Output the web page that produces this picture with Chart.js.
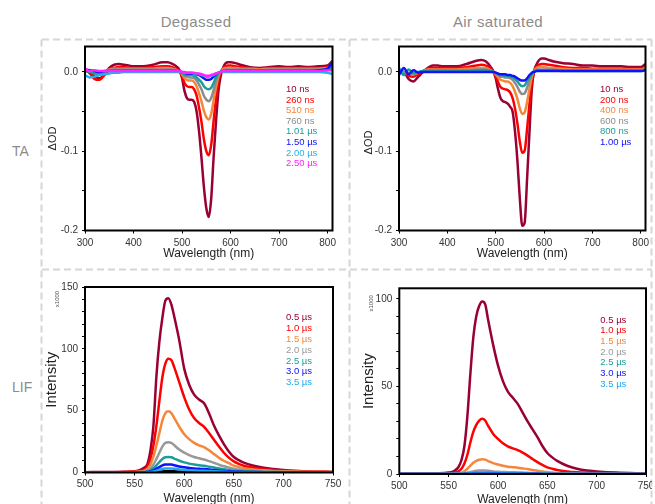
<!DOCTYPE html>
<html>
<head>
<meta charset="utf-8">
<script src="https://cdn.jsdelivr.net/npm/chart.js@4.4.1/dist/chart.umd.min.js"></script>
<style>
  body { margin: 0; width: 655px; height: 504px; overflow: hidden; background: #fff; position: relative;
         font-family: "Liberation Sans", Arial, sans-serif; }
  .panel { position: absolute; }
  .lbl { position: absolute; color: #8c8c8c; white-space: nowrap; }
</style>
</head>
<body>
<svg width="655" height="504" style="position:absolute;left:0;top:0">
  <g stroke="#d6d6d6" stroke-width="2" stroke-dasharray="7 4" fill="none">
    <line x1="42" y1="39.5" x2="652" y2="39.5"/>
    <line x1="42" y1="269.5" x2="652" y2="269.5"/>
    <line x1="41.5" y1="39.5" x2="41.5" y2="504"/>
    <line x1="349.5" y1="39.5" x2="349.5" y2="504"/>
    <line x1="651.5" y1="39.5" x2="651.5" y2="504"/>
  </g>
</svg>
<div class="lbl" style="left:146px;top:13px;width:100px;text-align:center;font-size:15px;letter-spacing:0.4px">Degassed</div>
<div class="lbl" style="left:438px;top:13px;width:120px;text-align:center;font-size:15px;letter-spacing:0.4px">Air saturated</div>
<div class="lbl" style="left:12px;top:143px;font-size:14px">TA</div>
<div class="lbl" style="left:12px;top:379px;font-size:14px">LIF</div>

<div class="panel" style="left:42px;top:40px"><canvas id="taDeg" width="308" height="230"></canvas></div>
<div class="panel" style="left:350px;top:40px"><canvas id="taAir" width="302" height="230"></canvas></div>
<div class="panel" style="left:42px;top:270px"><canvas id="lifDeg" width="308" height="234"></canvas></div>
<div class="panel" style="left:350px;top:270px"><canvas id="lifAir" width="302" height="234"></canvas></div>

<script>
/* ====== DATA ====== */
// transient absorption, wavelength grid (nm)
const taWl = [300,310,320,330,340,350,360,370,380,390,
  400,420,440,460,470,480,490,
  495,500,505,510,515,520,525,530,535,540,545,550,555,560,565,570,575,580,585,590,595,600,
  610,620,640,660,680,700,720,740,760,780,800,810];

const taXTicks = [300, 400, 500, 600, 700, 800];
const taYTicks = [-0.2, -0.15, -0.1, -0.05, 0];

const taDegLabels = ['10 ns', '260 ns', '510 ns', '760 ns', '1.01 µs', '1.50 µs', '2.00 µs', '2.50 µs'];
const taDegColors = ['#990033', '#ff0000', '#f5873a', '#8c8c8c', '#1a9e9a', '#1010ff', '#22b0f0', '#ff22ff'];

const taDeg10 = [0.004,0.000,-0.006,-0.008,-0.003,0.005,0.009,0.010,0.009,0.008,
  0.007,0.007,0.009,0.012,0.012,0.010,0.006,
  0.002,-0.008,-0.024,-0.033,-0.035,-0.035,-0.038,-0.050,-0.075,-0.108,-0.145,-0.172,-0.183,-0.160,-0.108,-0.062,-0.024,-0.004,0.006,0.011,0.012,0.012,
  0.011,0.009,0.006,0.005,0.006,0.007,0.006,0.007,0.006,0.007,0.008,0.014];
const taDeg260 = [0.002,-0.002,-0.009,-0.010,-0.004,0.003,0.005,0.006,0.006,0.005,
  0.005,0.005,0.006,0.007,0.007,0.006,0.003,
  0.000,-0.006,-0.014,-0.018,-0.019,-0.019,-0.022,-0.030,-0.045,-0.063,-0.085,-0.100,-0.105,-0.092,-0.062,-0.034,-0.012,0.000,0.005,0.007,0.008,0.008,
  0.007,0.006,0.005,0.004,0.005,0.005,0.005,0.005,0.005,0.005,0.006,0.008];
const taDeg510 = [0.003,0.001,-0.002,-0.003,0.000,0.003,0.004,0.004,0.004,0.004,
  0.004,0.004,0.004,0.005,0.005,0.004,0.002,
  0.000,-0.003,-0.008,-0.010,-0.011,-0.011,-0.013,-0.018,-0.027,-0.037,-0.049,-0.057,-0.060,-0.053,-0.036,-0.019,-0.006,0.001,0.004,0.005,0.005,0.005,
  0.005,0.004,0.004,0.003,0.004,0.004,0.004,0.004,0.004,0.004,0.005,0.006];
const taDeg760 = [0.002,0.001,-0.001,-0.002,0.000,0.002,0.003,0.003,0.003,0.003,
  0.003,0.003,0.003,0.003,0.003,0.003,0.001,
  0.000,-0.002,-0.005,-0.006,-0.007,-0.007,-0.008,-0.011,-0.016,-0.022,-0.030,-0.035,-0.037,-0.033,-0.023,-0.012,-0.004,0.001,0.002,0.003,0.003,0.003,
  0.003,0.003,0.003,0.002,0.003,0.003,0.003,0.003,0.003,0.003,0.004,0.005];
const taDeg1010 = [0.001,0.000,-0.002,-0.002,0.000,0.001,0.002,0.002,0.002,0.002,
  0.002,0.002,0.002,0.002,0.002,0.002,0.001,
  0.000,-0.001,-0.003,-0.004,-0.004,-0.004,-0.005,-0.007,-0.010,-0.013,-0.018,-0.021,-0.022,-0.020,-0.014,-0.007,-0.002,0.000,0.001,0.002,0.002,0.002,
  0.002,0.002,0.002,0.002,0.002,0.002,0.002,0.002,0.002,0.002,0.003,0.004];
const taDeg1500 = [0.003,0.002,0.001,0.000,0.001,0.001,0.001,0.001,0.001,0.001,
  0.001,0.001,0.001,0.001,0.001,0.001,0.001,
  0.000,0.000,-0.001,-0.002,-0.002,-0.002,-0.002,-0.003,-0.004,-0.006,-0.008,-0.010,-0.010,-0.009,-0.006,-0.003,-0.001,0.000,0.001,0.001,0.001,0.001,
  0.001,0.001,0.001,0.001,0.001,0.001,0.001,0.001,0.001,0.002,0.004,0.012];
const taDeg2000 = [-0.004,-0.007,-0.006,-0.004,-0.003,-0.002,-0.001,-0.001,0.000,0.000,
  0.000,0.000,0.000,0.000,0.000,0.000,0.000,
  0.000,0.000,-0.001,-0.001,-0.001,-0.001,-0.002,-0.002,-0.003,-0.004,-0.005,-0.006,-0.006,-0.005,-0.004,-0.002,-0.001,0.000,0.000,0.000,0.000,0.000,
  0.000,0.000,0.000,0.000,0.000,0.000,0.000,0.000,0.000,0.000,-0.001,-0.003];
const taDeg2500 = [0.004,0.001,0.002,0.001,0.001,0.001,0.001,0.001,0.001,0.001,
  0.001,0.001,0.001,0.001,0.001,0.001,0.001,
  0.001,0.000,0.000,-0.001,-0.001,-0.001,-0.001,-0.002,-0.002,-0.003,-0.004,-0.005,-0.005,-0.004,-0.003,-0.002,-0.001,0.000,0.001,0.001,0.001,0.001,
  0.001,0.001,0.001,0.001,0.001,0.001,0.001,0.001,0.001,0.001,0.002,0.002];

const taAirLabels = ['10 ns', '200 ns', '400 ns', '600 ns', '800 ns', '1.00 µs'];
const taAirColors = ['#990033', '#ff0000', '#f5873a', '#8c8c8c', '#1a9e9a', '#1010ff'];

const taAir10 = [0.003,0.000,-0.009,-0.012,-0.006,0.000,0.005,0.008,0.008,0.007,
  0.007,0.007,0.010,0.014,0.015,0.013,0.006,
  0.001,-0.008,-0.022,-0.033,-0.037,-0.038,-0.040,-0.044,-0.050,-0.075,-0.112,-0.160,-0.194,-0.190,-0.135,-0.075,-0.020,0.002,0.010,0.015,0.017,0.017,
  0.015,0.013,0.011,0.010,0.008,0.008,0.007,0.007,0.007,0.006,0.006,0.010];
const taAir200 = [0.002,-0.001,-0.005,-0.006,-0.003,0.001,0.004,0.005,0.005,0.005,
  0.005,0.005,0.006,0.008,0.009,0.008,0.004,
  0.000,-0.005,-0.013,-0.019,-0.021,-0.022,-0.023,-0.026,-0.033,-0.046,-0.065,-0.088,-0.102,-0.099,-0.072,-0.040,-0.012,0.002,0.007,0.009,0.010,0.010,
  0.009,0.008,0.006,0.005,0.005,0.004,0.004,0.004,0.004,0.004,0.004,0.006];
const taAir400 = [0.002,0.000,-0.002,-0.003,-0.001,0.001,0.003,0.003,0.003,0.003,
  0.003,0.003,0.004,0.005,0.005,0.005,0.002,
  0.000,-0.003,-0.007,-0.010,-0.011,-0.012,-0.012,-0.014,-0.018,-0.025,-0.034,-0.046,-0.053,-0.051,-0.038,-0.021,-0.006,0.002,0.005,0.006,0.006,0.006,
  0.005,0.005,0.004,0.003,0.003,0.003,0.003,0.003,0.003,0.003,0.003,0.005];
const taAir600 = [0.002,0.000,-0.001,-0.002,-0.001,0.001,0.002,0.002,0.002,0.002,
  0.002,0.002,0.002,0.003,0.003,0.003,0.001,
  0.000,-0.002,-0.004,-0.006,-0.006,-0.007,-0.007,-0.008,-0.010,-0.014,-0.019,-0.025,-0.028,-0.027,-0.020,-0.011,-0.003,0.001,0.003,0.003,0.003,0.003,
  0.003,0.003,0.002,0.002,0.002,0.002,0.002,0.002,0.002,0.002,0.002,0.004];
const taAir800 = [0.005,-0.004,0.003,-0.002,0.000,0.001,0.001,0.001,0.001,0.001,
  0.001,0.001,0.001,0.002,0.002,0.002,0.001,
  0.000,-0.001,-0.003,-0.004,-0.004,-0.005,-0.005,-0.006,-0.007,-0.009,-0.012,-0.016,-0.018,-0.017,-0.012,-0.007,-0.002,0.001,0.002,0.002,0.002,0.002,
  0.002,0.002,0.001,0.001,0.001,0.001,0.001,0.001,0.001,0.001,0.001,0.003];
const taAir1000 = [-0.004,0.005,-0.003,0.002,-0.001,0.000,0.000,0.000,0.000,0.000,
  0.000,0.000,0.000,0.000,0.000,0.000,0.000,
  0.000,-0.001,-0.002,-0.003,-0.003,-0.003,-0.004,-0.004,-0.005,-0.006,-0.008,-0.010,-0.011,-0.011,-0.008,-0.004,-0.001,0.000,0.001,0.001,0.001,0.001,
  0.001,0.001,0.001,0.001,0.001,0.001,0.001,0.001,0.001,0.001,0.001,0.002];

// laser induced fluorescence (intensity x1000)
const lifWl = [500,520,540,550,555,
  560,563,566,569,572,575,578,581,584,587,590,
  595,600,605,610,615,620,625,630,635,640,645,650,655,660,
  670,680,690,700,720,750];

const lifXTicks = [500, 550, 600, 650, 700, 750];
const lifDegYTicks = [0, 10, 20, 30, 40, 50, 60, 70, 80, 90, 100, 110, 120, 130, 140, 150];
const lifAirYTicks = [0, 10, 20, 30, 40, 50, 60, 70, 80, 90, 100];

const lifLabels = ['0.5 µs', '1.0 µs', '1.5 µs', '2.0 µs', '2.5 µs', '3.0 µs', '3.5 µs'];
const lifColors = ['#990033', '#ff0000', '#f5873a', '#999999', '#1a9e9a', '#1010ff', '#1ea8ee'];

const lifDeg05 = [0.3,0.4,0.6,1.0,1.8, 4,7,18,38,78,106,125,139,141,136,126, 107,84,71,63,59,56,48,38,30,23,17,12.5,10,8, 5.5,3.8,2.8,2.1,1.1,0.5];
const lifDeg10 = [0.3,0.3,0.5,0.7,1.2, 2.5,5,11,22,38,58,77,88,92,91,85, 73,61,51,44,40,37,32,26.5,21,16,12,9,7,5.5, 3.8,2.7,2,1.5,0.8,0.4];
const lifDeg15 = [0.2,0.2,0.3,0.5,0.8, 1.5,3,6.5,13,22,32,42,48,49.5,48,44, 37,31,27,24,22,20.5,18,15,12,9.5,7.5,5.5,4.5,3.5, 2.5,1.8,1.3,1,0.6,0.3];
const lifDeg20 = [0.1,0.1,0.2,0.3,0.4, 0.8,1.5,3.2,6.5,11,16,21,24,24.5,24,22, 18.5,16,14,12.5,11.5,10.5,9.2,7.8,6.3,5,4,3,2.4,1.9, 1.3,0.9,0.7,0.5,0.3,0.1];
const lifDeg25 = [0.1,0.1,0.1,0.2,0.2, 0.4,0.8,1.7,3.4,5.8,8.5,11,12.3,12.6,12.3,11.3, 9.5,8.2,7.2,6.4,5.9,5.4,4.7,4,3.2,2.6,2,1.5,1.2,1, 0.7,0.5,0.4,0.3,0.2,0.1];
const lifDeg30 = [0.1,0.1,0.1,0.1,0.1, 0.2,0.4,0.9,1.8,3,4.4,5.7,6.4,6.5,6.4,5.9, 4.9,4.3,3.7,3.3,3,2.8,2.4,2,1.7,1.3,1,0.8,0.6,0.5, 0.4,0.3,0.2,0.2,0.1,0.1];
const lifDeg35 = [0.1,0.1,0.1,0.1,0.1, 0.1,0.2,0.5,0.9,1.5,2.2,2.9,3.2,3.3,3.2,3, 2.5,2.2,1.9,1.7,1.5,1.4,1.2,1,0.8,0.7,0.5,0.4,0.3,0.3, 0.2,0.2,0.1,0.1,0.1,0.1];
const lifDegLate = [0,0,0,0,0, 0.05,0.1,0.2,0.35,0.55,0.75,0.9,1,1,1,0.95, 0.85,0.75,0.65,0.55,0.5,0.45,0.4,0.35,0.3,0.25,0.2,0.15,0.12,0.1, 0.05,0,0,0,0,0];

const lifAir05 = [0.2,0.3,0.4,0.8,1.5, 4,8,16,33,57,78,90,96,98.5,97,88, 74,62,53,47,43.5,40,35,30,25.5,21,16,12,9.5,7.5, 4.7,3,2,1.5,0.8,0.3];
const lifAir10 = [0.1,0.1,0.2,0.3,0.6, 1.5,3,6,11,18,24,28,30.5,31.5,30.5,27.5, 23,20,17.5,15.8,14.6,13.6,12.2,10.5,8.6,6.8,5.2,3.8,3,2.3, 1.5,1,0.7,0.5,0.3,0.1];
const lifAir15 = [0,0,0.1,0.1,0.2, 0.4,0.8,1.6,3,4.8,6.4,7.5,8.1,8.4,8.2,7.4, 6.2,5.4,4.7,4.2,3.9,3.6,3.2,2.8,2.3,1.8,1.4,1,0.8,0.6, 0.4,0.3,0.2,0.1,0.1,0];
const lifAir20 = [0,0,0,0,0.1, 0.1,0.2,0.4,0.7,1.1,1.5,1.8,1.95,2,1.95,1.8, 1.5,1.3,1.15,1,0.95,0.9,0.8,0.7,0.55,0.45,0.35,0.25,0.2,0.15, 0.1,0.1,0,0,0,0];
const lifAir25 = [0,0,0,0,0, 0,0.1,0.15,0.25,0.4,0.55,0.65,0.7,0.7,0.7,0.65, 0.55,0.45,0.4,0.35,0.33,0.3,0.28,0.25,0.2,0.15,0.12,0.1,0.07,0.05, 0.03,0,0,0,0,0];
const lifAir30 = [0,0,0,0,0, 0,0,0.08,0.12,0.2,0.27,0.32,0.35,0.35,0.35,0.32, 0.28,0.23,0.2,0.18,0.16,0.15,0.14,0.12,0.1,0.08,0.06,0.05,0.04,0.03, 0.02,0,0,0,0,0];
const lifAir35 = [0,0,0,0,0, 0,0,0.04,0.07,0.11,0.15,0.18,0.2,0.2,0.2,0.18, 0.15,0.13,0.11,0.1,0.09,0.08,0.07,0.06,0.05,0.04,0.03,0.03,0.02,0.02, 0.01,0,0,0,0,0];

/* ====== SETUP ====== */
Chart.defaults.font.family = '"Liberation Sans", Arial, sans-serif';
Chart.defaults.font.size = 10;
Chart.defaults.color = '#333';

// box, legend text and axis titles
const deco = {
  id: 'deco',
  afterDatasetsDraw(chart, args, o) {
    const { ctx, chartArea: a } = chart;
    ctx.save();
    ctx.strokeStyle = '#000';
    ctx.lineWidth = 2;
    ctx.strokeRect(a.left, a.top, a.right - a.left, a.bottom - a.top);

    ctx.font = '9.5px "Liberation Sans", Arial, sans-serif';
    ctx.textAlign = 'left';
    ctx.textBaseline = 'middle';
    let k = 0;
    chart.data.datasets.forEach(ds => {
      if (!ds.label) return;
      ctx.fillStyle = ds.borderColor;
      ctx.fillText(ds.label, a.left + 201, a.top + o.legendY + k * o.legendStep);
      k++;
    });

    ctx.fillStyle = '#222';
    ctx.textAlign = 'center';
    ctx.font = '12px "Liberation Sans", Arial, sans-serif';
    ctx.fillText('Wavelength (nm)', (a.left + a.right) / 2, a.bottom + o.xTitleDy);

    ctx.save();
    ctx.translate(a.left + o.yTitleDx, (a.top + a.bottom) / 2 + o.yTitleDy);
    ctx.rotate(-Math.PI / 2);
    ctx.font = o.yTitleFont;
    ctx.fillText(o.yTitle, 0, 0);
    ctx.restore();

    if (o.unitNote) {
      ctx.save();
      ctx.translate(a.left + o.unitDx, a.top + o.unitDy);
      ctx.rotate(-Math.PI / 2);
      ctx.fillStyle = '#555';
      ctx.font = '6px "Liberation Sans", Arial, sans-serif';
      ctx.fillText(o.unitNote, 0, 0);
      ctx.restore();
    }
    ctx.restore();
  }
};
Chart.register(deco);

function makeDatasets(wl, series, labels, colors) {
  return series.map((vals, i) => ({
    label: labels[i] || '',
    data: wl.map((x, j) => ({ x: x, y: vals[j] })),
    borderColor: colors[i],
    borderWidth: 2.5,
    pointRadius: 0,
    cubicInterpolationMode: 'monotone',
    order: series.length - i
  }));
}

function makeChart(id, cfg) {
  return new Chart(document.getElementById(id), {
    type: 'line',
    data: { datasets: cfg.datasets },
    options: {
      responsive: false,
      animation: false,
      layout: { padding: { left: 0, right: cfg.padRight, top: cfg.padTop, bottom: 0 } },
      scales: {
        x: {
          type: 'linear', min: cfg.xMin, max: cfg.xMax,
          border: { display: false },
          grid: { drawOnChartArea: false, drawTicks: true, tickLength: 3, color: '#000' },
          ticks: { autoSkip: false, maxRotation: 0, padding: cfg.xPad },
          afterBuildTicks: s => { s.ticks = cfg.xTicks.map(v => ({ value: v })); },
          afterFit: s => { s.height = cfg.xHeight; s.paddingLeft = 0; s.paddingRight = 0; }
        },
        y: {
          type: 'linear', min: cfg.yMin, max: cfg.yMax,
          border: { display: false },
          grid: { drawOnChartArea: false, drawTicks: true, tickLength: 3, color: '#000' },
          ticks: { autoSkip: false, padding: 4, callback: cfg.yLabel },
          afterBuildTicks: s => { s.ticks = cfg.yTicks.map(v => ({ value: v })); },
          afterFit: s => { s.width = cfg.yWidth; s.paddingTop = 0; s.paddingBottom = 0; }
        }
      },
      plugins: {
        legend: { display: false },
        tooltip: { enabled: false },
        deco: cfg.deco
      }
    }
  });
}

const odLabel = v => {
  const t = v * 10;
  if (Math.abs(t - Math.round(t)) > 1e-6) return '';
  return Math.abs(v) < 1e-9 ? '0.0' : v.toFixed(1);
};
const intLabel = v => (Math.abs(v % 50) < 1e-6 ? String(v) : '');

/* ====== CHARTS ====== */
makeChart('taDeg', {
  datasets: makeDatasets(taWl,
    [taDeg10, taDeg260, taDeg510, taDeg760, taDeg1010, taDeg1500, taDeg2000, taDeg2500],
    taDegLabels, taDegColors),
  xMin: 300, xMax: 810, xTicks: taXTicks, xPad: 4, xHeight: 39.5,
  yMin: -0.2, yMax: 0.032, yTicks: taYTicks, yLabel: odLabel, yWidth: 43,
  padRight: 17.5, padTop: 6.5,
  deco: { legendY: 42.8, legendStep: 10.6, xTitleDy: 23.5, yTitleDx: -32.5, yTitleDy: 0,
          yTitle: 'ΔOD', yTitleFont: '11px "Liberation Sans", Arial, sans-serif' }
});

makeChart('taAir', {
  datasets: makeDatasets(taWl,
    [taAir10, taAir200, taAir400, taAir600, taAir800, taAir1000],
    taAirLabels, taAirColors),
  xMin: 300, xMax: 810, xTicks: taXTicks, xPad: 4, xHeight: 39.5,
  yMin: -0.2, yMax: 0.032, yTicks: taYTicks, yLabel: odLabel, yWidth: 49,
  padRight: 6.5, padTop: 6.5,
  deco: { legendY: 42.8, legendStep: 10.6, xTitleDy: 23.5, yTitleDx: -30, yTitleDy: 4,
          yTitle: 'ΔOD', yTitleFont: '11px "Liberation Sans", Arial, sans-serif' }
});

makeChart('lifDeg', {
  datasets: makeDatasets(lifWl,
    [lifDegLate, lifDeg05, lifDeg10, lifDeg15, lifDeg20, lifDeg25, lifDeg30, lifDeg35],
    [''].concat(lifLabels), ['#000000'].concat(lifColors)),
  xMin: 500, xMax: 750, xTicks: lifXTicks, xPad: 3, xHeight: 31.5,
  yMin: 0, yMax: 150, yTicks: lifDegYTicks, yLabel: intLabel, yWidth: 43,
  padRight: 17, padTop: 17,
  deco: { legendY: 30.7, legendStep: 10.8, xTitleDy: 26, yTitleDx: -33.5, yTitleDy: 0,
          yTitle: 'Intensity', yTitleFont: '15px "Liberation Sans", Arial, sans-serif',
          unitNote: 'x1000', unitDx: -28, unitDy: 12 }
});

makeChart('lifAir', {
  datasets: makeDatasets(lifWl,
    [lifAir05, lifAir10, lifAir15, lifAir20, lifAir25, lifAir30, lifAir35],
    lifLabels, lifColors),
  xMin: 500, xMax: 750, xTicks: lifXTicks, xPad: 3, xHeight: 30,
  yMin: 0, yMax: 106, yTicks: lifAirYTicks, yLabel: intLabel, yWidth: 49.3,
  padRight: 6, padTop: 18.3,
  deco: { legendY: 31.7, legendStep: 10.7, xTitleDy: 26, yTitleDx: -30.3, yTitleDy: 0,
          yTitle: 'Intensity', yTitleFont: '15px "Liberation Sans", Arial, sans-serif',
          unitNote: 'x1000', unitDx: -28, unitDy: 15 }
});
</script>
</body>
</html>
